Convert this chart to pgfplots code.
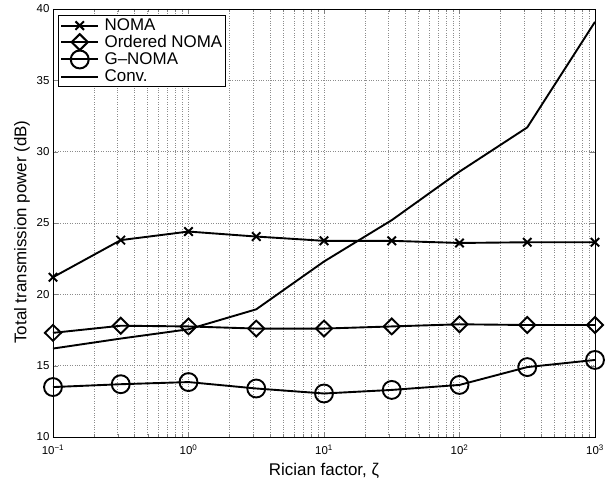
\documentclass[border=0pt]{standalone}
\usepackage{fontspec}
\setmainfont{Liberation Sans}
\usepackage{pgfplots}
\pgfplotsset{compat=1.18}
\usetikzlibrary{calc}

\newcommand{\lf}{\fontsize{17}{20}\selectfont}

\begin{document}
\begin{tikzpicture}
\begin{axis}[
  name=ax,
  xmode=log, scale only axis,
  width=542bp, height=428bp,
  xmin=0.1, xmax=1000, ymin=10, ymax=40,
  xtick={0.1,1,10,100,1000},
  xticklabels={10\textsuperscript{−1},10\textsuperscript{0},10\textsuperscript{1},10\textsuperscript{2},10\textsuperscript{3}},
  ytick={10,15,20,25,30,35,40},
  yticklabels={10,15,20,25,30,35,40},
  tick label style={font=\fontsize{11.5}{13}\selectfont},
  xticklabel style={yshift=-4bp},
  label style={font=\lf},
  xlabel={Rician factor, ζ},
  ylabel={Total transmission power (dB)},
  xlabel style={yshift=-1.5bp},
  ylabel style={xshift=-9bp},
  grid=both,
  major grid style={black!45, dotted, line width=0.5pt},
  minor grid style={black!45, dotted, line width=0.5pt},
  minor y tick num=0,
  major tick length=5bp, minor tick length=3bp,
  axis line style={line width=0.7pt},
  legend style={font=\lf, at={(0.009,0.986)}, anchor=north west,
    draw=black, line width=0.9pt, inner sep=2pt, row sep=0pt, column sep=4pt,
    nodes={inner sep=1.5pt}, cells={anchor=west}},
  legend image code/.code={\draw[line width=2pt, mark repeat=2, mark phase=2] plot coordinates {(0pt,0pt) (18.5pt,0pt) (37pt,0pt)};},
  every axis plot/.append style={black, line width=1.9pt},
]
\addplot[mark=x, mark size=6pt] coordinates
  {(0.1,21.2) (0.3162,23.8) (1,24.4) (3.162,24.05) (10,23.75) (31.62,23.75) (100,23.6) (316.2,23.65) (1000,23.65)};
\addlegendentry{\lf NOMA}
\addplot[mark=diamond, mark size=8pt, mark options={xscale=1.35}] coordinates
  {(0.1,17.3) (0.3162,17.8) (1,17.75) (3.162,17.6) (10,17.6) (31.62,17.75) (100,17.9) (316.2,17.85) (1000,17.85)};
\addlegendentry{\lf Ordered NOMA}
\addplot[mark=o, mark size=9pt] coordinates
  {(0.1,13.5) (0.3162,13.7) (1,13.85) (3.162,13.4) (10,13.05) (31.62,13.3) (100,13.65) (316.2,14.9) (1000,15.4)};
\addlegendentry{\lf G–NOMA}
\addplot[no marks] coordinates
  {(0.1,16.2) (0.3162,16.9) (1,17.55) (3.162,18.95) (10,22.3) (31.62,25.2) (100,28.6) (316.2,31.7) (1000,39.1)};
\addlegendentry{\lf Conv.}
\end{axis}
\pgfresetboundingbox
\path[use as bounding box] ($(ax.south west)+(-53bp,-42bp)$) rectangle ($(ax.north east)+(21bp,9bp)$);
\end{tikzpicture}
\end{document}
